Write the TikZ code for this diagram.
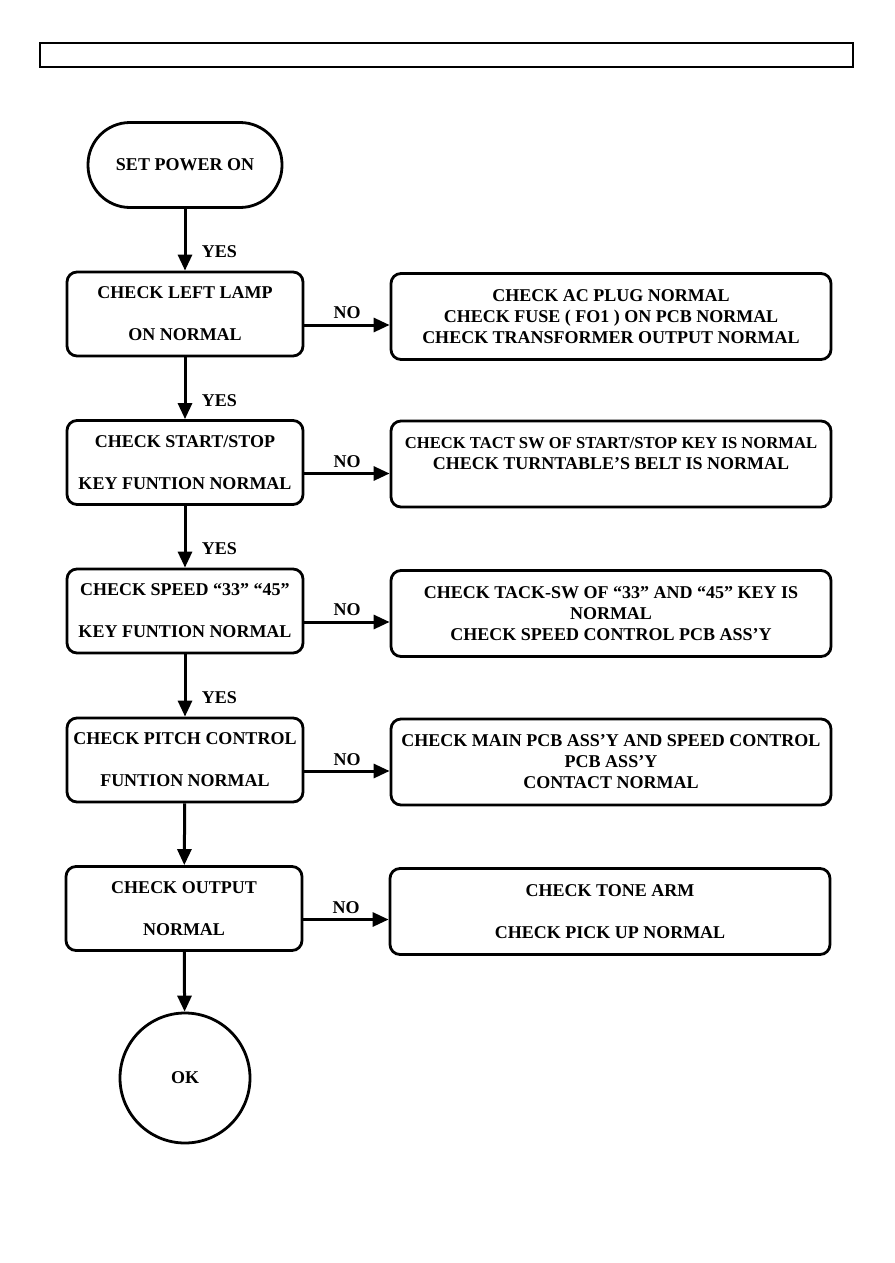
\documentclass[tikz,border=0pt]{standalone}
\usepackage{fontspec}
\setmainfont{Liberation Serif}
\usetikzlibrary{arrows.meta}

\begin{document}
\begin{tikzpicture}[
    x=1pt, y=-1pt,
    font=\bfseries\fontsize{18}{21}\selectfont,
    box/.style={draw, line width=2.8pt, rounded corners=10pt, align=center, inner sep=0pt},
    chk/.style={box, minimum width=236pt, minimum height=84pt},
    fix/.style={box, minimum width=440pt, minimum height=86pt},
    term/.style={draw, line width=2.8pt, rounded corners=42pt, minimum width=194pt, minimum height=85pt},
    okc/.style={circle, draw, line width=2.8pt, minimum size=130pt},
    flow/.style={line width=3pt, -{Triangle[length=16pt, width=14pt]}},
  ]
    \useasboundingbox (0,0) rectangle (894,1263);
    % header bar
    \draw[line width=2.4pt] (40,43) rectangle (853,67);
    % main column
    \node[term] (S)  at (185,165)  {SET POWER ON};
    \node[chk]  (C1) at (185,314)  {CHECK LEFT LAMP\\[21pt]ON NORMAL};
    \node[chk]  (C2) at (185,462.5){CHECK START/STOP\\[21pt]KEY FUNTION NORMAL};
    \node[chk]  (C3) at (185,611)  {CHECK SPEED “33” “45”\\[21pt]KEY FUNTION NORMAL};
    \node[chk]  (C4) at (185,760)  {CHECK PITCH CONTROL\\[21pt]FUNTION NORMAL};
    \node[chk]  (C5) at (184,908.5){CHECK OUTPUT\\[21pt]NORMAL};
    \node[okc]  (OK) at (185,1078) {OK};
    % remedies
    \node[fix] (R1) at (611,316.5) {CHECK AC PLUG NORMAL\\CHECK FUSE ( FO1 ) ON PCB NORMAL\\CHECK TRANSFORMER OUTPUT NORMAL};
    \node[fix] (R2) at (611,464)   {{\fontsize{16.6}{21}\selectfont CHECK TACT SW OF START/STOP KEY IS NORMAL}\\CHECK TURNTABLE’S BELT IS NORMAL\\~};
    \node[fix] (R3) at (611,613.5) {CHECK TACK-SW OF “33” AND “45” KEY IS\\NORMAL\\CHECK SPEED CONTROL PCB ASS’Y};
    \node[fix] (R4) at (611,762)   {CHECK MAIN PCB ASS’Y AND SPEED CONTROL\\PCB ASS’Y\\CONTACT NORMAL};
    \node[fix] (R5) at (610,911.5) {CHECK TONE ARM\\[21pt]CHECK PICK UP NORMAL};
    % yes flows
    \draw[flow] (S)  -- node[pos=0.7, right=12pt] {YES} (C1);
    \draw[flow] (C1) -- node[pos=0.7, right=12pt] {YES} (C2);
    \draw[flow] (C2) -- node[pos=0.7, right=12pt] {YES} (C3);
    \draw[flow] (C3) -- node[pos=0.7, right=12pt] {YES} (C4);
    \draw[flow] (C4) -- (C5);
    \draw[flow] (C5) -- (OK);
    % no flows
    \draw[flow] ([yshift=-11pt]C1.east) -- node[above=1pt] {NO} ([yshift=-11pt]C1.east -| R1.west);
    \draw[flow] ([yshift=-11pt]C2.east) -- node[above=1pt] {NO} ([yshift=-11pt]C2.east -| R2.west);
    \draw[flow] ([yshift=-11pt]C3.east) -- node[above=1pt] {NO} ([yshift=-11pt]C3.east -| R3.west);
    \draw[flow] ([yshift=-11pt]C4.east) -- node[above=1pt] {NO} ([yshift=-11pt]C4.east -| R4.west);
    \draw[flow] ([yshift=-11pt]C5.east) -- node[above=1pt] {NO} ([yshift=-11pt]C5.east -| R5.west);
  \end{tikzpicture}
\end{document}
